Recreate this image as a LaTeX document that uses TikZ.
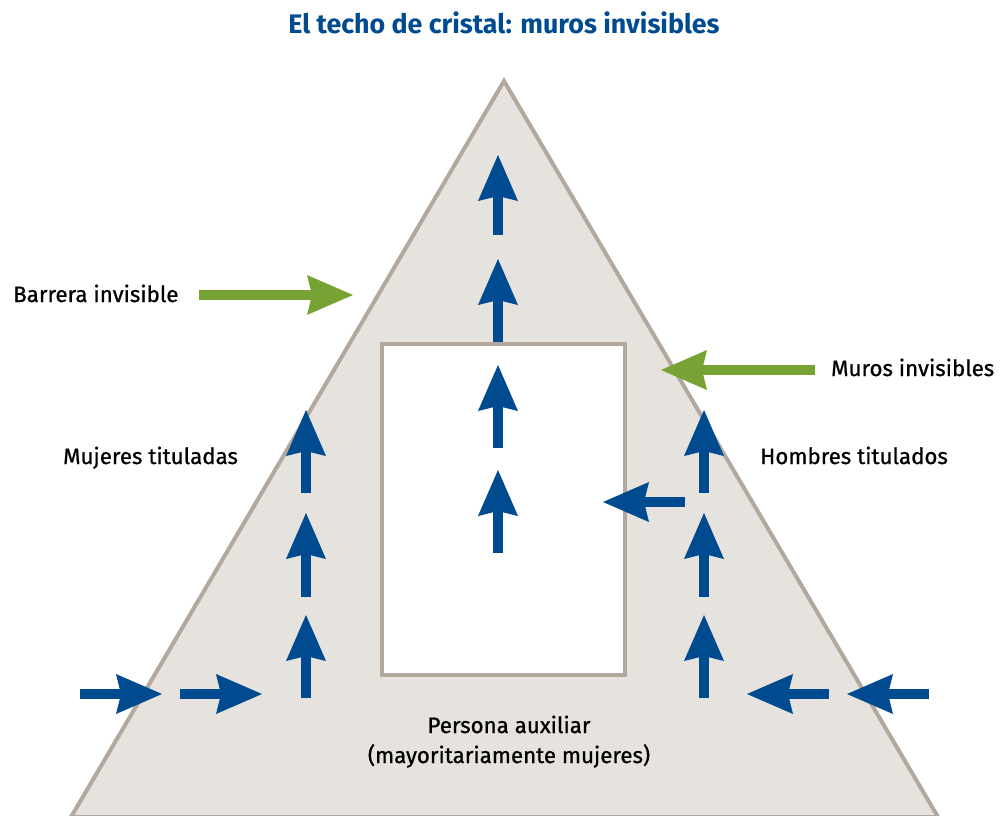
\documentclass[tikz,border=0pt]{standalone}
\usepackage{fontspec}
\setmainfont{Fira Sans}
\newfontfamily\lblfont[FakeBold=0.8]{Fira Sans}
\usetikzlibrary{arrows.meta}
\definecolor{tblue}{HTML}{004A8F}
\definecolor{tgreen}{HTML}{77A334}
\definecolor{tfill}{HTML}{E6E3DE}
\definecolor{tline}{HTML}{B2A89E}
\begin{document}
\begin{tikzpicture}[x=1pt,y=-1pt,
  bluearrow/.style={draw=tblue,line width=9.5pt,-{Stealth[length=46pt,width=40pt,inset=5pt,line width=0pt]}},
  greenarrow/.style={draw=tgreen,line width=9.5pt,-{Stealth[length=46pt,width=40pt,inset=5pt,line width=0pt]}},
  lbl/.style={inner sep=0pt,font=\lblfont\fontsize{22.3}{26}\selectfont,text=black},
  ttl/.style={inner sep=0pt,font=\fontsize{26.8}{31}\selectfont\bfseries,text=tblue}]
\useasboundingbox (0,0) rectangle (1004,815);
% triangle
\coordinate (apex) at (504,81);
\coordinate (bl) at (71,817);
\coordinate (br) at (938,817);
\draw[fill=tfill,draw=tline,line width=4pt,line join=miter] (apex) -- (bl) -- (br) -- cycle;
% box
\draw[fill=white,draw=tline,line width=4pt] (382,344) rectangle (625,675);
% title
\node[ttl,anchor=base] (title) at (504,33) {El techo de cristal: muros invisibles};
% labels
\node[lbl,anchor=base west] (barrera) at (13,302) {Barrera invisible};
\node[lbl,anchor=base west] (muros) at (831,376) {Muros invisibles};
\node[lbl,anchor=base west] (mujeres) at (63,464) {Mujeres tituladas};
\node[lbl,anchor=base west] (hombres) at (760,464) {Hombres titulados};
\node[lbl,anchor=base] (persona) at (509,733) {Persona auxiliar};
\node[lbl,anchor=base] (mayor) at (509,763) {(mayoritariamente mujeres)};
% arrows
\foreach \n/\xa/\ya/\xb/\yb in {
  c1/498/235/498/155, c2/498/342/498/259, c3/498/448/498/365, c4/498/553/498/470,
  l1/306/493/306/410, l2/306/597/306/513, l3/306/698/306/615,
  r1/704/493/704/410, r2/704/597/704/513, r3/704/698/704/615,
  h1/80/694/162/694, h2/180/694/262/694, h3/829/694/747/694, h4/929/694/847/694,
  m1/685/502/603/502}{
  \coordinate (\n s) at (\xa,\ya);
  \coordinate (\n e) at (\xb,\yb);
  \draw[bluearrow] (\n s) -- (\n e);
}
\coordinate (g1s) at (199,295); \coordinate (g1e) at (353,295);
\coordinate (g2s) at (815,370); \coordinate (g2e) at (661,370);
\draw[greenarrow] (g1s) -- (g1e);
\draw[greenarrow] (g2s) -- (g2e);
\end{tikzpicture}
\end{document}
